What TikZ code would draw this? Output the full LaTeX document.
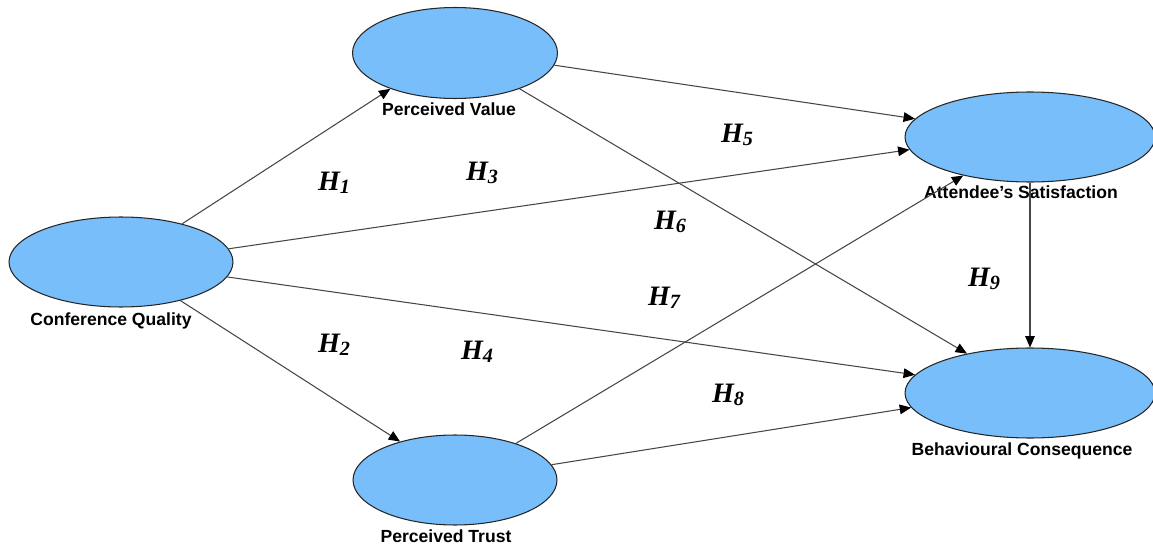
\documentclass[tikz,border=0pt]{standalone}
\usepackage{fontspec}
\setmainfont{Liberation Serif}
\newfontfamily\lsans{Liberation Sans}
\usetikzlibrary{shapes.geometric,arrows.meta}
\definecolor{ellfill}{RGB}{119,190,250}
\definecolor{linegray}{RGB}{70,70,70}
\tikzset{
  construct/.style={ellipse, draw=black!85, line width=0.6pt, fill=ellfill, inner sep=0pt},
  clabel/.style={anchor=base, font=\lsans\bfseries\fontsize{10}{12}\selectfont, inner sep=0pt},
  hlabel/.style={inner sep=0pt, font=\fontsize{16}{18}\selectfont\bfseries\itshape},
  path/.style={draw=linegray, line width=0.6pt, -{Triangle[length=6.5pt,width=5.5pt,color=black]}}
}
\newcommand{\hyp}[1]{H\raisebox{-2pt}{\fontsize{11.5}{12}\selectfont #1}}
\begin{document}
\begin{tikzpicture}[x=0.02cm,y=-0.02cm]
\useasboundingbox (0,0) rectangle (1153,547);
% constructs
\node[construct, minimum width=4.1cm, minimum height=1.82cm] (pv) at (455,53) {};
\node[construct, minimum width=4.48cm, minimum height=1.8cm] (cq) at (121,262) {};
\node[construct, minimum width=4.08cm, minimum height=1.8cm] (pt) at (455,480) {};
\node[construct, minimum width=5.0cm, minimum height=1.8cm] (as) at (1030,137) {};
\node[construct, minimum width=5.0cm, minimum height=1.8cm] (bc) at (1030,393) {};
% labels
\node[clabel] (lpv) at (449,116) {Perceived Value};
\node[clabel] (lcq) at (111,325) {Conference Quality};
\node[clabel] (lpt) at (446,542) {Perceived Trust};
\node[clabel] (las) at (1021,199) {Attendee’s Satisfaction};
\node[clabel] (lbc) at (1022,455) {Behavioural Consequence};
% paths
\draw[path] (cq.32.8) -- (pv.209.4);
\draw[path] (cq.-33.3) -- (pt.145);
\draw[path] (cq.7.5) -- (as.186.8);
\draw[path] (cq.-8) -- (bc.171.3);
\draw[path] (pv.-7.6) -- (as.171.3);
\draw[path] (pv.-29) -- (bc.148.5);
\draw[path] (pt.31.9) -- (as.210.2);
\draw[path] (pt.9.8) -- (bc.187.7);
\draw[path] (as.south) -- (bc.north);
% hypotheses
\node[hlabel] (h1) at (334,183) {\hyp{1}};
\node[hlabel] (h2) at (334,345) {\hyp{2}};
\node[hlabel] (h3) at (482,173) {\hyp{3}};
\node[hlabel] (h4) at (477,352) {\hyp{4}};
\node[hlabel] (h5) at (737,135) {\hyp{5}};
\node[hlabel] (h6) at (670,222) {\hyp{6}};
\node[hlabel] (h7) at (664,298) {\hyp{7}};
\node[hlabel] (h8) at (728,395) {\hyp{8}};
\node[hlabel] (h9) at (984,279) {\hyp{9}};
\end{tikzpicture}
\end{document}
